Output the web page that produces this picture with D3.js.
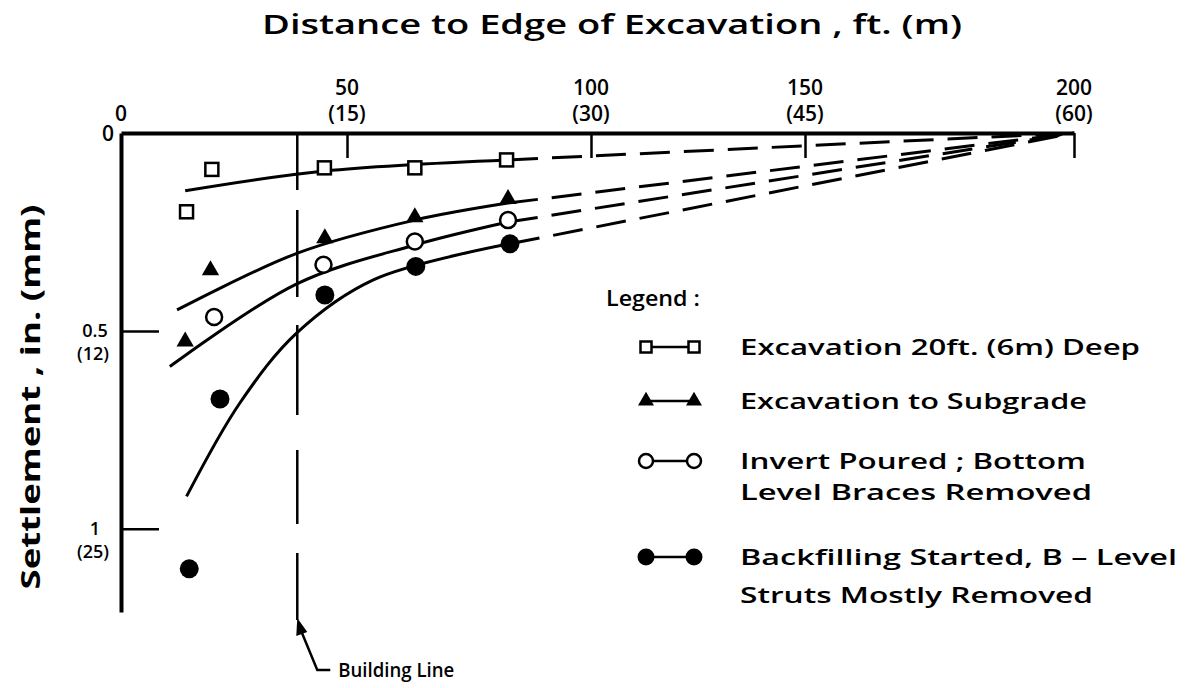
<!DOCTYPE html>
<html>
<head>
<meta charset="utf-8">
<script src="https://cdn.jsdelivr.net/npm/d3@7"></script>
<style>
body{margin:0;background:#fff}
svg{display:block}
text{font-family:"Open Sans",sans-serif;font-weight:600;fill:#000}
</style>
</head>
<body>
<svg id="chart" width="1186" height="688"></svg>
<script>
// distance to edge (ft) / settlement (in.)
var squareX = [20.1, 14.5, 45.0, 63.9, 82.7];
var squareY = [0.092, 0.199, 0.088, 0.088, 0.068];
var triX = [19.8, 14.2, 45.1, 63.9, 83.0];
var triY = [0.347, 0.527, 0.266, 0.213, 0.167];
var openX = [20.6, 44.8, 63.9, 83.0];
var openY = [0.465, 0.333, 0.274, 0.220];
var fullX = [15.1, 21.9, 45.1, 64.1, 83.4];
var fullY = [1.101, 0.672, 0.409, 0.337, 0.280];

// hand drawn trend curves (solid part), then dashed to zero at 200 ft
var squareCurve = [[14.2,0.146],[45,0.096],[83,0.068]];
var triCurve = [[12.4,0.447],[38.9,0.304],[63.9,0.220],[83,0.177]];
var openCurve = [[10.8,0.590],[38.9,0.381],[63.9,0.283],[83,0.225]];
var fullCurve = [[14.5,0.918],[26.3,0.682],[38.9,0.505],[55.4,0.371],[83.4,0.280]];
var zeroPoint = [200, 0];
var buildingLine = 39;

var xTicks = [0, 50, 100, 150, 200];
var xTickFt = ["0", "50", "100", "150", "200"];
var xTickM = ["", "(15)", "(30)", "(45)", "(60)"];
var yTicks = [0, 0.5, 1];
var yTickIn = ["0", "0.5", "1"];
var yTickMm = ["", "(12)", "(25)"];

var legendNames = [
  ["Excavation 20ft. (6m) Deep"],
  ["Excavation to Subgrade"],
  ["Invert Poured ; Bottom", "Level Braces Removed"],
  ["Backfilling Started, B \u2013 Level", "Struts Mostly Removed"]
];

var svg = d3.select("#chart");

// the old drawing's x axis is not evenly spaced, so follow its tick positions
var x = d3.scaleLinear()
  .domain(xTicks)
  .range([121, 347, 591, 805, 1074]);

var y = d3.scaleLinear()
  .domain([0, 1.21])
  .range([133, 612]);

// title
svg.append("text")
  .attr("x", 612).attr("y", 34)
  .attr("text-anchor", "middle")
  .attr("font-size", 27)
  .attr("textLength", 700)
  .attr("lengthAdjust", "spacingAndGlyphs")
  .text("Distance to Edge of Excavation , ft. (m)");

// y label
svg.append("text")
  .attr("transform", "translate(40,397) rotate(-90)")
  .attr("text-anchor", "middle")
  .attr("font-size", 27)
  .style("font-weight", 700)
  .attr("textLength", 385)
  .attr("lengthAdjust", "spacingAndGlyphs")
  .text("Settlement , in. (mm)");

// top axis
var xAxis = svg.append("g")
  .attr("transform", "translate(0," + y(0) + ")")
  .call(d3.axisTop(x).tickValues([50, 100, 150, 200]).tickSize(-25).tickSizeOuter(0).tickFormat(""));
xAxis.select(".domain").attr("stroke-width", 4);
xAxis.selectAll(".tick line").attr("stroke-width", 2.5);

xTicks.forEach(function(t, i){
  var lower = xTickM[i] == "";
  svg.append("text")
    .attr("x", x(t)).attr("y", lower ? 121 : 95)
    .attr("text-anchor", "middle")
    .attr("font-size", 21)
    .text(xTickFt[i]);
  if(!lower){
    svg.append("text")
      .attr("x", x(t)).attr("y", 121)
      .attr("text-anchor", "middle")
      .attr("font-size", 21)
      .text(xTickM[i]);
  }
});

// left axis
var yAxis = svg.append("g")
  .attr("transform", "translate(" + x(0) + ",0)")
  .call(d3.axisLeft(y).tickValues([0.5, 1]).tickSize(-38).tickSizeOuter(0).tickFormat(""));
yAxis.select(".domain").attr("stroke-width", 4);
yAxis.selectAll(".tick line").attr("stroke-width", 2.5);

yTicks.forEach(function(t, i){
  if(yTickMm[i] == ""){
    svg.append("text")
      .attr("x", 108).attr("y", y(t) + 8)
      .attr("text-anchor", "middle")
      .attr("font-size", 21)
      .text(yTickIn[i]);
    return;
  }
  svg.append("text")
    .attr("x", 95).attr("y", y(t) + 6)
    .attr("text-anchor", "middle")
    .attr("font-size", 18)
    .text(yTickIn[i]);
  svg.append("text")
    .attr("x", 93).attr("y", y(t) + 29)
    .attr("text-anchor", "middle")
    .attr("font-size", 18)
    .text(yTickMm[i]);
});

// building line
svg.append("line")
  .attr("x1", x(buildingLine)).attr("x2", x(buildingLine))
  .attr("y1", y(0)).attr("y2", y(1.23))
  .attr("stroke", "#000")
  .attr("stroke-width", 2.5)
  .attr("stroke-dasharray", "57,20,87,28,90,35,74,29,67");

var bx = x(buildingLine), by = y(1.23);
svg.append("path")
  .attr("d", "M" + (bx + 1) + "," + (by + 4) + " L" + (bx + 20) + "," + (by + 50) + " H" + (bx + 33))
  .attr("fill", "none")
  .attr("stroke", "#000")
  .attr("stroke-width", 2.5);
svg.append("path")
  .attr("d", "M" + bx + "," + (by - 2) + " L" + (bx - 1) + "," + (by + 16) + " L" + (bx + 10) + "," + (by + 12) + "Z")
  .attr("fill", "#000");
svg.append("text")
  .attr("x", bx + 41).attr("y", by + 57)
  .attr("font-size", 19)
  .attr("textLength", 116)
  .attr("lengthAdjust", "spacingAndGlyphs")
  .text("Building Line");

// curves
var line = d3.line()
  .x(function(d){ return x(d[0]); })
  .y(function(d){ return y(d[1]); })
  .curve(d3.curveCatmullRom.alpha(0.5));

[squareCurve, triCurve, openCurve, fullCurve].forEach(function(c){
  svg.append("path")
    .attr("d", line(c))
    .attr("fill", "none")
    .attr("stroke", "#000")
    .attr("stroke-width", 3);
  svg.append("path")
    .attr("d", d3.line().x(function(d){ return x(d[0]); }).y(function(d){ return y(d[1]); })([c[c.length - 1], zeroPoint]))
    .attr("fill", "none")
    .attr("stroke", "#000")
    .attr("stroke-width", 3)
    .attr("stroke-dasharray", "30,14");
});

// markers
function drawSquare(g, cx, cy, s){
  g.append("rect")
    .attr("x", cx - s / 2).attr("y", cy - s / 2)
    .attr("width", s).attr("height", s)
    .attr("fill", "#fff").attr("stroke", "#000").attr("stroke-width", 2.5);
}
function drawTri(g, cx, cy, s){
  g.append("path")
    .attr("d", d3.symbol(d3.symbolTriangle, s)())
    .attr("transform", "translate(" + cx + "," + cy + ")")
    .attr("fill", "#000");
}
function drawOpen(g, cx, cy, r){
  g.append("circle")
    .attr("cx", cx).attr("cy", cy).attr("r", r)
    .attr("fill", "#fff").attr("stroke", "#000").attr("stroke-width", 2.5);
}
function drawFull(g, cx, cy, r){
  g.append("circle")
    .attr("cx", cx).attr("cy", cy).attr("r", r)
    .attr("fill", "#000");
}

var marks = svg.append("g");
squareX.forEach(function(d, i){ drawSquare(marks, x(d), y(squareY[i]), 13); });
triX.forEach(function(d, i){ drawTri(marks, x(d), y(triY[i]), 130); });
openX.forEach(function(d, i){ drawOpen(marks, x(d), y(openY[i]), 8); });
fullX.forEach(function(d, i){ drawFull(marks, x(d), y(fullY[i]), 9.5); });

// legend
var legend = svg.append("g");
legend.append("text")
  .attr("x", 606).attr("y", 306)
  .attr("font-size", 22)
  .attr("textLength", 94)
  .attr("lengthAdjust", "spacingAndGlyphs")
  .text("Legend :");

var rowY = [347, 401, 461, 557];
var lineLens = [[400], [347], [346, 352], [437, 353]];
var drawers = [
  function(cx, cy){ drawSquare(legend, cx, cy, 11); },
  function(cx, cy){ drawTri(legend, cx, cy, 110); },
  function(cx, cy){ drawOpen(legend, cx, cy, 7); },
  function(cx, cy){ drawFull(legend, cx, cy, 8.5); }
];
legendNames.forEach(function(names, i){
  var cy = rowY[i];
  legend.append("line")
    .attr("x1", 646).attr("x2", 694)
    .attr("y1", cy).attr("y2", cy)
    .attr("stroke", "#000").attr("stroke-width", 2.5);
  drawers[i](646, cy);
  drawers[i](694, cy);
  names.forEach(function(n, j){
    legend.append("text")
      .attr("x", 740).attr("y", cy + 8 + j * (i == 3 ? 38 : 31))
      .attr("font-size", 22)
      .attr("textLength", lineLens[i][j])
      .attr("lengthAdjust", "spacingAndGlyphs")
      .text(n);
  });
});
</script>
</body>
</html>
